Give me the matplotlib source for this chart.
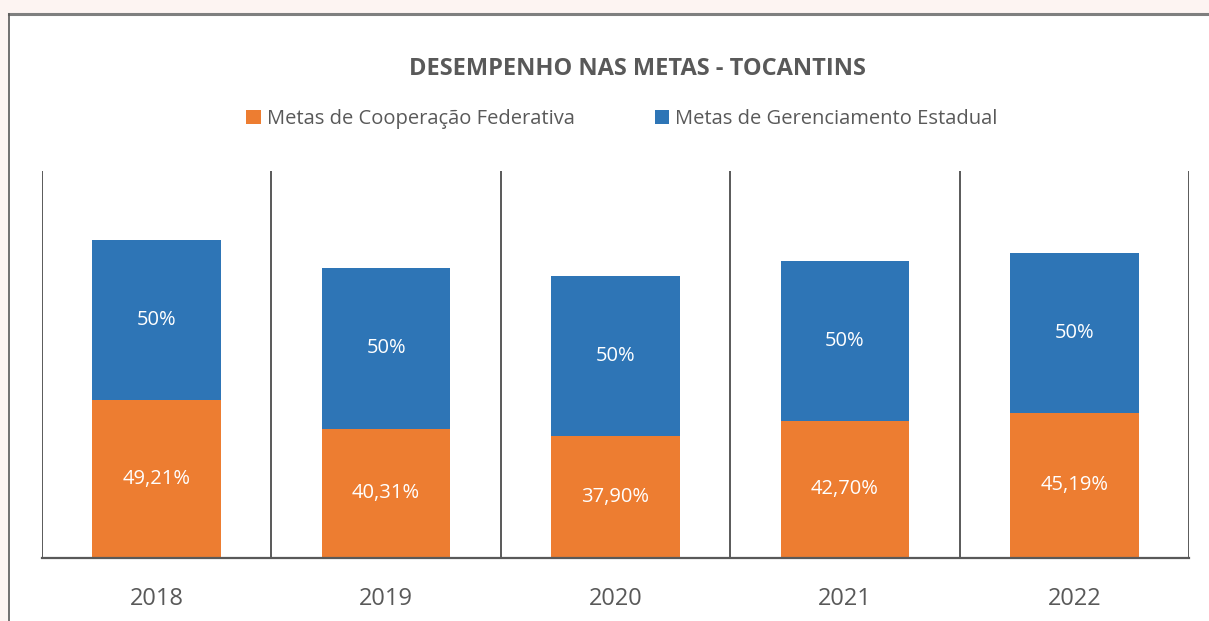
import matplotlib
matplotlib.use("Agg")
import matplotlib.pyplot as plt
from matplotlib.patches import Rectangle
from matplotlib.lines import Line2D
import numpy as np

years = ["2018", "2019", "2020", "2021", "2022"]
coop_federativa = [49.21, 40.31, 37.90, 42.70, 45.19]
gerenc_estadual = [50, 50, 50, 50, 50]
coop_labels = ["49,21%", "40,31%", "37,90%", "42,70%", "45,19%"]
gerenc_labels = ["50%", "50%", "50%", "50%", "50%"]
series_names = ["Metas de Cooperação Federativa", "Metas de Gerenciamento Estadual"]
title = "DESEMPENHO NAS METAS - TOCANTINS"

ORANGE = "#ED7D31"
BLUE = "#2E75B6"
GRAY = "#595959"
FONT = ["Open Sans", "DejaVu Sans"]

W, H = 1209, 621
fig = plt.figure(figsize=(W / 100, H / 100), dpi=100)
fig.patch.set_facecolor("#FDF4F2")

# white chart frame
fx, fy = 9 / W, 1 - 14 / H
fig.patches.append(Rectangle((fx, 0), 1 - fx + 0.01, fy, transform=fig.transFigure,
                             facecolor="white", edgecolor="none", zorder=-5))
fig.lines.append(Line2D([fx, 1], [fy, fy], transform=fig.transFigure, color="#7F7F7F",
                        lw=2.2, zorder=-4))
fig.lines.append(Line2D([fx, fx], [0, fy], transform=fig.transFigure, color="#595959",
                        lw=1.2, zorder=-4))

ax = fig.add_axes([42 / W, (H - 558) / H, (1189 - 42) / W, (558 - 171) / H])
ax.set_zorder(1)
ax.set_facecolor("none")
x = np.arange(len(years))
bw = 0.56
ax.bar(x, coop_federativa, bw, color=ORANGE, label=series_names[0], zorder=2)
ax.bar(x, gerenc_estadual, bw, bottom=coop_federativa, color=BLUE, label=series_names[1], zorder=2)

for i in range(len(years)):
    ax.text(x[i], coop_federativa[i] / 2, coop_labels[i], ha="center", va="center",
            color="white", fontsize=14.5, family=FONT, zorder=3)
    ax.text(x[i], coop_federativa[i] + gerenc_estadual[i] / 2, gerenc_labels[i], ha="center",
            va="center", color="white", fontsize=14.5, family=FONT, zorder=3)

ax.set_xlim(-0.5, len(years) - 0.5)
ax.set_ylim(0, 120.6)
for k in range(len(years) + 1):
    ax.axvline(k - 0.5, color=GRAY, lw=1.4, zorder=1)
for s in ["top", "left", "right"]:
    ax.spines[s].set_visible(False)
ax.spines["bottom"].set_color(GRAY)
ax.spines["bottom"].set_linewidth(1.6)
ax.set_yticks([])
ax.set_xticks(x)
ax.set_xticklabels(years, fontsize=17, color=GRAY, family=FONT)
ax.tick_params(axis="x", length=0, pad=21)

fig.text(637 / W, 1 - 69 / H, title, ha="center", va="center", fontsize=17,
         fontweight="bold", color=GRAY, family=FONT)

leg = fig.legend(loc="center", bbox_to_anchor=(622 / W, 1 - 119 / H), ncol=2, frameon=False,
                 prop={"family": FONT, "size": 14.5}, handlelength=0.7, handleheight=0.7,
                 handletextpad=0.3, columnspacing=4.0, labelcolor=GRAY)

fig.savefig("out.png", dpi=100, facecolor=fig.get_facecolor())
